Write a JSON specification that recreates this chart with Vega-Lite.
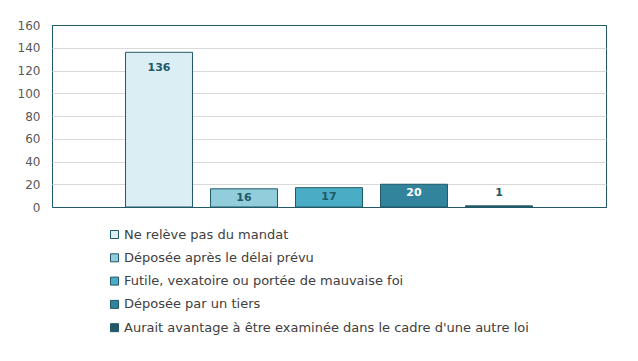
{
  "$schema": "https://vega.github.io/schema/vega-lite/v6.json",
  "autosize": {"type": "none"},
  "width": 554,
  "height": 182,
  "padding": {"left": 52, "top": 25, "right": 32, "bottom": 154},
  "background": "white",
  "config": {
    "font": "DejaVu Sans",
    "view": {"stroke": "#215968", "strokeWidth": 1}
  },
  "data": {
    "values": [
      {"motif": "Ne relève pas du mandat", "n": 136},
      {"motif": "Déposée après le délai prévu", "n": 16},
      {"motif": "Futile, vexatoire ou portée de mauvaise foi", "n": 17},
      {"motif": "Déposée par un tiers", "n": 20},
      {"motif": "Aurait avantage à être examinée dans le cadre d'une autre loi", "n": 1}
    ]
  },
  "encoding": {
    "x": {
      "field": "motif", "type": "nominal", "sort": null,
      "scale": {"paddingInner": 0.212, "paddingOuter": 0.865},
      "axis": null
    },
    "y": {
      "field": "n", "type": "quantitative",
      "scale": {"domain": [0, 160], "nice": false},
      "axis": {
        "values": [0, 20, 40, 60, 80, 100, 120, 140, 160],
        "title": null, "domain": false, "ticks": false,
        "labelPadding": 12, "labelFontSize": 12, "labelColor": "#595959",
        "gridColor": {"condition": {"test": "datum.value == 0 || datum.value == 160", "value": "#215968"}, "value": "#D9D9D9"},
        "gridWidth": 1
      }
    }
  },
  "layer": [
    {
      "mark": {"type": "bar", "stroke": "#215968", "strokeWidth": 1},
      "encoding": {
        "color": {
          "field": "motif", "type": "nominal", "sort": null,
          "scale": {
            "domain": ["Ne relève pas du mandat", "Déposée après le délai prévu", "Futile, vexatoire ou portée de mauvaise foi", "Déposée par un tiers", "Aurait avantage à être examinée dans le cadre d'une autre loi"],
            "range": ["#DAEEF3", "#92CDDC", "#4BACC6", "#31849B", "#215968"]
          },
          "legend": {
            "orient": "none", "legendX": 56, "legendY": 203,
            "title": null, "symbolType": "square", "symbolSize": 64,
            "symbolStrokeColor": "#215968", "symbolStrokeWidth": 1,
            "labelFontSize": 13, "labelColor": "#404040", "labelOffset": 3,
            "rowPadding": 9.3, "labelLimit": 600
          }
        }
      }
    },
    {
      "transform": [{"filter": "datum.n > 100"}],
      "mark": {"type": "text", "baseline": "top", "dy": 10, "fontWeight": "bold", "fontSize": 11, "color": "#215968"},
      "encoding": {"text": {"field": "n"}}
    },
    {
      "transform": [{"filter": "datum.n >= 5 && datum.n <= 100"}],
      "mark": {"type": "text", "baseline": "top", "dy": 3, "fontWeight": "bold", "fontSize": 11},
      "encoding": {
        "text": {"field": "n"},
        "color": {"condition": {"test": "datum.n >= 20", "value": "white"}, "value": "#215968"}
      }
    },
    {
      "transform": [{"filter": "datum.n < 5"}],
      "mark": {"type": "text", "baseline": "bottom", "dy": -8, "fontWeight": "bold", "fontSize": 11, "color": "#215968"},
      "encoding": {"text": {"field": "n"}}
    }
  ]
}
